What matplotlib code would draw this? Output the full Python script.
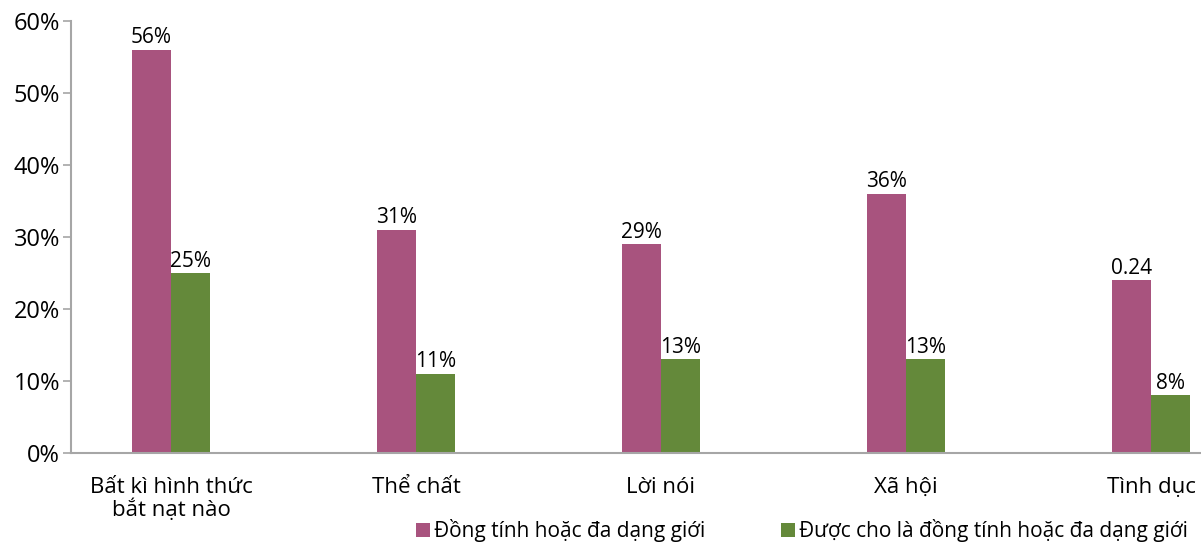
import matplotlib.pyplot as plt
from matplotlib.ticker import PercentFormatter

plt.rcParams['font.family'] = ['Open Sans', 'DejaVu Sans']

categories = ['Bất kì hình thức\nbắt nạt nào', 'Thể chất', 'Lời nói', 'Xã hội', 'Tình dục']
lgbt = [56, 31, 29, 36, 24]
perceived = [25, 11, 13, 13, 8]
lgbt_labels = ['56%', '31%', '29%', '36%', '0.24']
perceived_labels = ['25%', '11%', '13%', '13%', '8%']
series_names = ['Đồng tính hoặc đa dạng giới', 'Được cho là đồng tính hoặc đa dạng giới']

pink = '#A8537E'
green = '#64893A'
grey = '#A6A6A6'

fig = plt.figure(figsize=(12.01, 5.49), dpi=100)
ax = fig.add_axes([71 / 1201, 96 / 549, 1 - 71 / 1201, 432 / 549])

x = list(range(len(categories)))
w = 0.16
b1 = ax.bar([i - w / 2 for i in x], lgbt, w, color=pink, label=series_names[0])
b2 = ax.bar([i + w / 2 for i in x], perceived, w, color=green, label=series_names[1])

for rect, lab in zip(b1, lgbt_labels):
    ax.annotate(lab, (rect.get_x() + rect.get_width() / 2, rect.get_height()),
                xytext=(0, 1), textcoords='offset points', ha='center', va='bottom', fontsize=15)
for rect, lab in zip(b2, perceived_labels):
    ax.annotate(lab, (rect.get_x() + rect.get_width() / 2, rect.get_height()),
                xytext=(0, 1), textcoords='offset points', ha='center', va='bottom', fontsize=15)

ax.set_ylim(0, 60)
ax.set_xlim(-0.408, 4.204)
ax.set_yticks(range(0, 61, 10))
ax.yaxis.set_major_formatter(PercentFormatter(decimals=0))
ax.set_xticks(x)
ax.set_xticklabels(categories, fontsize=16, linespacing=1.05)
ax.tick_params(axis='x', length=0, pad=17)
ax.tick_params(axis='y', length=6, width=1.2, color=grey, labelsize=17, pad=2)

for s in ['top', 'right']:
    ax.spines[s].set_visible(False)
for s in ['left', 'bottom']:
    ax.spines[s].set_color(grey)
    ax.spines[s].set_linewidth(1.5)

fig.legend(loc='lower right', bbox_to_anchor=(1.005, -0.022), ncol=2, frameon=False,
           fontsize=15, handlelength=0.7, handleheight=0.7, handletextpad=0.2,
           columnspacing=3.6)

fig.savefig('out.png', dpi=100)
